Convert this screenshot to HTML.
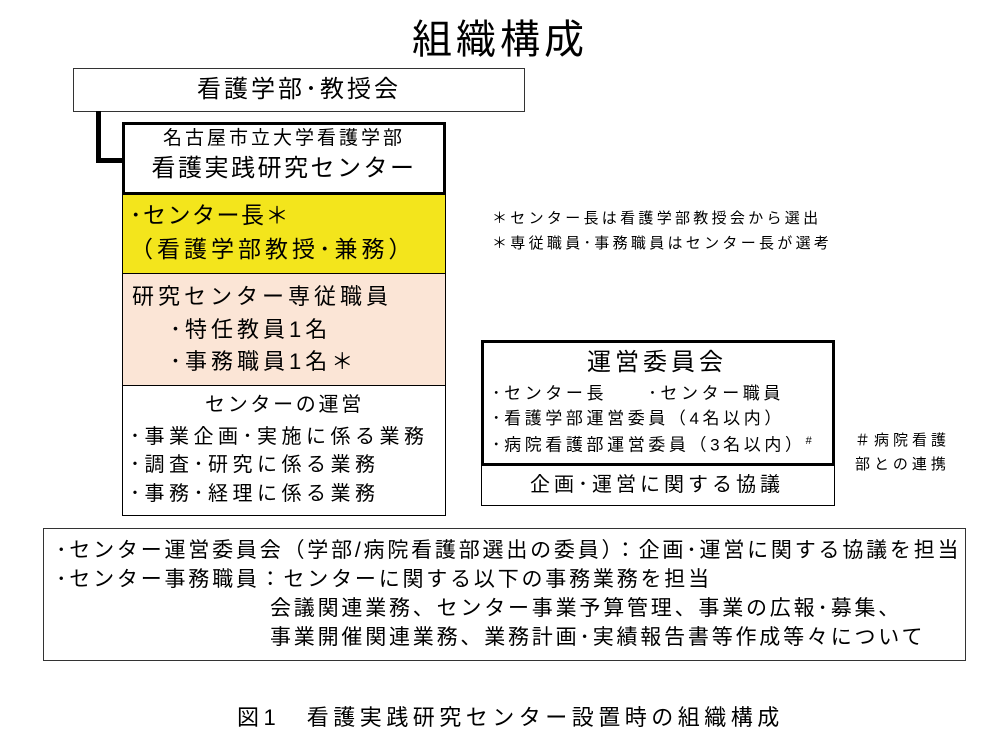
<!DOCTYPE html>
<html><head><meta charset="utf-8"><style>
body{margin:0;width:1000px;height:750px;background:#fff;position:relative;overflow:hidden;font-family:"Liberation Sans","Noto Sans CJK JP",sans-serif;color:#000}
.b{position:absolute;box-sizing:border-box}
.t{position:absolute;white-space:nowrap;line-height:1}
</style></head><body>
<div class="t" style="left:0;width:1000px;text-align:center;top:20px;font-size:40px;letter-spacing:4px">組織構成</div>

<div class="b" style="left:73px;top:68px;width:452px;height:44px;border:1.5px solid #333"></div>
<div class="t" style="left:73px;width:452px;text-align:center;top:78px;font-size:24px;letter-spacing:3px">看護学部･教授会</div>

<div class="b" style="left:96px;top:111px;width:5px;height:52px;background:#000"></div>
<div class="b" style="left:96px;top:158px;width:28px;height:5px;background:#000"></div>

<div class="b" style="left:122px;top:122px;width:324px;height:73px;border:3px solid #000;background:#fff"></div>
<div class="t" style="left:122px;width:324px;text-align:center;top:129px;font-size:19px;letter-spacing:3px">名古屋市立大学看護学部</div>
<div class="t" style="left:122px;width:324px;text-align:center;top:157px;font-size:24px;letter-spacing:2.5px">看護実践研究センター</div>

<div class="b" style="left:122px;top:194px;width:324px;height:80px;border:1.5px solid #000;background:#f3e51c"></div>
<div class="t" style="left:130px;top:204px;font-size:23px;letter-spacing:1.5px">･センター長＊</div>
<div class="t" style="left:130px;top:238px;font-size:23px;letter-spacing:4px">（看護学部教授･兼務）</div>

<div class="b" style="left:122px;top:273px;width:324px;height:113px;border:1.5px solid #000;background:#fbe5d6"></div>
<div class="t" style="left:132px;top:286px;font-size:22px;letter-spacing:4px">研究センター専従職員</div>
<div class="t" style="left:170px;top:319px;font-size:22px;letter-spacing:4px">･特任教員1名</div>
<div class="t" style="left:170px;top:351px;font-size:22px;letter-spacing:4px">･事務職員1名＊</div>

<div class="b" style="left:122px;top:385px;width:324px;height:131px;border:1.5px solid #000;background:#fff"></div>
<div class="t" style="left:205px;top:395px;font-size:20px;letter-spacing:2.7px">センターの運営</div>
<div class="t" style="left:130px;top:427px;font-size:20px;letter-spacing:4.5px">･事業企画･実施に係る業務</div>
<div class="t" style="left:130px;top:455px;font-size:20px;letter-spacing:4.5px">･調査･研究に係る業務</div>
<div class="t" style="left:130px;top:484px;font-size:20px;letter-spacing:4.5px">･事務･経理に係る業務</div>

<div class="t" style="left:492px;top:211px;font-size:15px;letter-spacing:3.3px">＊センター長は看護学部教授会から選出</div>
<div class="t" style="left:492px;top:236px;font-size:15px;letter-spacing:3.3px">＊専従職員･事務職員はセンター長が選考</div>

<div class="b" style="left:481px;top:340px;width:354px;height:126px;border:3px solid #000"></div>
<div class="t" style="left:587px;top:351px;font-size:24px;letter-spacing:4px">運営委員会</div>
<div class="t" style="left:492px;top:385px;font-size:17px;letter-spacing:3.6px">･センター長　　･センター職員</div>
<div class="t" style="left:492px;top:410px;font-size:17px;letter-spacing:3.6px">･看護学部運営委員（4名以内）</div>
<div class="t" style="left:492px;top:436px;font-size:17px;letter-spacing:3.6px">･病院看護部運営委員（3名以内）<sup style="font-size:11px">#</sup></div>
<div class="b" style="left:481px;top:464px;width:354px;height:42px;border:1.5px solid #000"></div>
<div class="t" style="left:530px;top:475px;font-size:20px;letter-spacing:4px">企画･運営に関する協議</div>
<div class="t" style="left:855px;top:433px;font-size:15px;letter-spacing:4px">＃病院看護</div>
<div class="t" style="left:855px;top:457px;font-size:15px;letter-spacing:4px">部との連携</div>

<div class="b" style="left:43px;top:528px;width:923px;height:133px;border:1.5px solid #333"></div>
<div class="t" style="left:56px;top:540px;font-size:21px;letter-spacing:2.8px">･センター運営委員会（学部/病院看護部選出の委員）：企画･運営に関する協議を担当</div>
<div class="t" style="left:56px;top:569px;font-size:21px;letter-spacing:2.8px">･センター事務職員：センターに関する以下の事務業務を担当</div>
<div class="t" style="left:270px;top:598px;font-size:21px;letter-spacing:2.8px">会議関連業務、センター事業予算管理、事業の広報･募集、</div>
<div class="t" style="left:270px;top:627px;font-size:21px;letter-spacing:2.8px">事業開催関連業務、業務計画･実績報告書等作成等々について</div>

<div class="t" style="left:237px;top:707px;font-size:22px;letter-spacing:4.5px">図1　看護実践研究センター設置時の組織構成</div>
</body></html>
